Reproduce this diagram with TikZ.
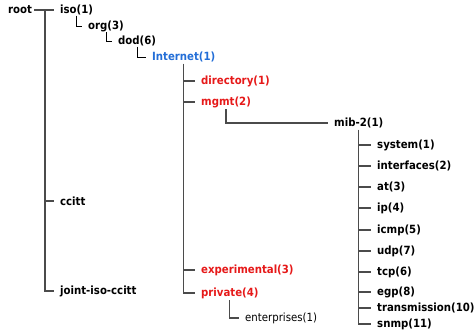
\documentclass[tikz,border=0pt]{standalone}
\usepackage{fontspec}
\setmainfont{DejaVu Sans Condensed}
\usetikzlibrary{calc}

\definecolor{treeline}{RGB}{75,75,75}
\definecolor{oidblue}{RGB}{35,110,215}
\definecolor{oidred}{RGB}{230,25,25}

\tikzset{
  oid/.style={anchor=west, inner xsep=6pt, inner ysep=1.5pt,
    font=\fontsize{11.3}{13}\selectfont\bfseries},
  oidplain/.style={oid, font=\fontsize{11.3}{13}\selectfont},
  branch/.style={draw=treeline, line width=1.2pt},
  corner/.style={draw=black, line width=0.8pt},
}

\begin{document}
\begin{tikzpicture}[x=1pt, y=-1pt]
  \useasboundingbox (0,0) rectangle (475,335);
  % top levels
  \node[oid, inner xsep=1pt] (root) at (7,10) {root};
  \node[oid] (iso) at (54,10) {iso(1)};
  \node[oid] (org) at (82,26) {org(3)};
  \node[oid] (dod) at (112,41) {dod(6)};
  \node[oid, oidblue] (inet) at (146,57) {Internet(1)};
  \node[oid] (ccitt) at (54,201) {ccitt};
  \node[oid] (joint) at (54,291) {joint-iso-ccitt};
  % under Internet
  \node[oid, oidred] (dir) at (195,81) {directory(1)};
  \node[oid, oidred] (mgmt) at (195,102) {mgmt(2)};
  \node[oid, oidred] (exper) at (195,270) {experimental(3)};
  \node[oid, oidred] (private) at (195,293) {private(4)};
  \node[oidplain] (ent) at (239,318) {enterprises(1)};
  \node[oid] (mib2) at (328,123) {mib-2(1)};
  % mib-2 groups
  \foreach \i/\lab/\y in {1/system(1)/145, 2/interfaces(2)/166, 3/at(3)/187,
      4/ip(4)/208, 5/icmp(5)/230, 6/udp(7)/251, 7/tcp(6)/272, 8/egp(8)/292,
      9/transmission(10)/308, 10/snmp(11)/324} {
    \node[oid] (m\i) at (371,\y) {\lab};
  }

  % branches
  \coordinate (rs) at ($(root.east -| iso.west)+(-9,0)$);
  \draw[branch] ([xshift=1pt]root.east) -- (iso.west);
  \draw[branch] (rs) |- (joint.west);
  \draw[branch] (rs |- ccitt.west) -- (ccitt.west);
  \draw[corner] ([yshift=1pt]iso.south) |- (org.west);
  \draw[corner] ([yshift=1pt]org.south) |- (dod.west);
  \draw[corner] ([yshift=1pt]dod.south) |- (inet.west);
  \draw[branch] (inet.south) |- (private.west);
  \foreach \n in {dir, mgmt, exper} {
    \draw[branch] (inet.south |- \n.west) -- (\n.west);
  }
  \draw[branch] (mgmt.south) |- (mib2.west);
  \draw[branch] (private.south) |- (ent.west);
  \draw[branch] (mib2.south) |- (m10.west);
  \foreach \i in {1,...,9} {
    \draw[branch] (mib2.south |- m\i.west) -- (m\i.west);
  }
\end{tikzpicture}
\end{document}
